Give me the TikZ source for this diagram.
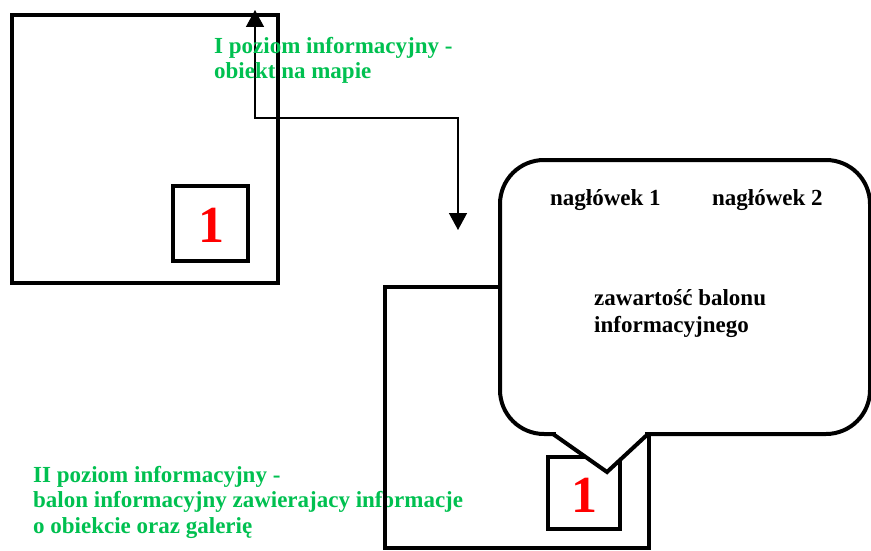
\documentclass[tikz,border=0pt]{standalone}
\usepackage{fontspec}
\setmainfont{Liberation Serif}
\usetikzlibrary{arrows.meta}

\definecolor{zielen}{RGB}{0,192,80}
\definecolor{czerwien}{RGB}{255,0,0}

\tikzset{
  ramka/.style={line width=4pt},
  opis/.style={font=\fontsize{23}{25.5}\selectfont\bfseries, text=zielen,
    align=left, anchor=base west, inner sep=0pt},
  tekst/.style={font=\fontsize{23}{27}\selectfont\bfseries, text=black,
    align=left, anchor=base west, inner sep=0pt},
  numer/.style={font=\fontsize{52}{52}\selectfont\bfseries, text=czerwien,
    anchor=base, inner sep=0pt},
  strzalka/.style={line width=1.5pt,
    {Triangle[width=18pt,length=17pt]}-{Triangle[width=18pt,length=17pt]}}
}

\begin{document}
\begin{tikzpicture}[x=1pt, y=-1pt]

    \useasboundingbox (0,0) rectangle (871,551);
    \clip (0,0) rectangle (871,551);

    % I poziom - obiekt na mapie
    \draw[ramka] (12,15) rectangle (278,283);
    \draw[ramka] (173,186) rectangle (248,261);
    \node[numer] (nr1) at (211,242) {1};

    % przejscie miedzy poziomami
    \coordinate (gora) at (255,10);
    \coordinate (zakret) at (458,118);
    \coordinate (dol) at (458,230);
    \draw[strzalka] (gora) |- (zakret) -- (dol);

    % base = ostatnia linia
    \node[opis] (poziom1) at (214,79) {I poziom informacyjny -\\obiekt na mapie};

    % II poziom - balon
    \node[opis] (poziom2) at (33,533) {II poziom informacyjny -\\balon informacyjny zawierajacy informacje\\o obiekcie oraz galerię};
    \draw[ramka] (385,287) rectangle (649,548);
    \draw[ramka] (548,457) rectangle (620,529);
    \node[numer] (nr2) at (584,512) {1};

    \draw[ramka, fill=white, rounded corners=44pt] (500,160) rectangle (870,434);
    \fill[white] (556,429) rectangle (645,439);
    \draw[ramka, fill=white, line join=miter] (553,434) -- (607,472) -- (648,434);

    \node[tekst] (nagl1) at (550,205) {nagłówek 1};
    \node[tekst] (nagl2) at (712,205) {nagłówek 2};
    \node[tekst] (tresc) at (594,332) {zawartość balonu\\informacyjnego};

\end{tikzpicture}
\end{document}
